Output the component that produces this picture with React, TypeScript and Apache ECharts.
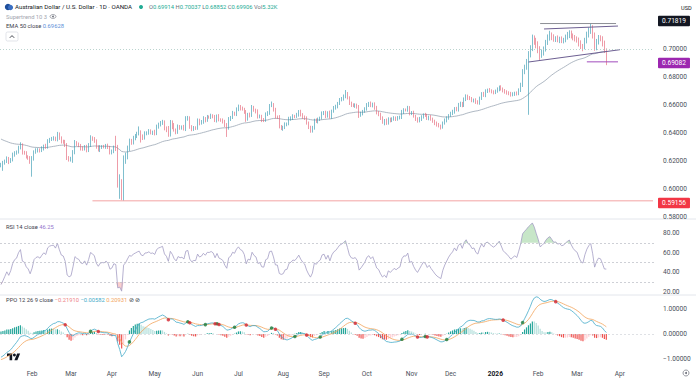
import React, { useEffect, useRef } from "react";
import * as echarts from "echarts";

// ---- warm-up closes (Sep 2024 - Jan 9 2025), used only to seed the indicators ----
const warmup = [
  6780, 6710, 6705, 6745, 6670, 6685, 6665, 6675, 6710, 6715, 6750, 6760, 6750, 6815, 6805, 6820, 6890, 6855, 6895, 6905, 6915,
  6880, 6865, 6820, 6790, 6770, 6730, 6735, 6730, 6750, 6720, 6690, 6695, 6670, 6710, 6670, 6680, 6625, 6640, 6625, 6605, 6540, 6570, 6580,
  6545, 6590, 6615, 6525, 6630, 6580, 6565, 6530, 6500, 6455, 6465, 6505, 6520, 6495, 6510, 6505, 6510, 6475, 6490, 6500, 6515,
  6480, 6445, 6410, 6420, 6395, 6390, 6365, 6350, 6330, 6345, 6335, 6310, 6240, 6240, 6250, 6240, 6225, 6220, 6215, 6210, 6200, 6190,
  6185, 6195, 6205, 6225, 6195, 6180, 6170,
];

// ---- visible daily closes (x 1e-4), upper wick and lower wick (pips) ----
const cJan25 = [6175, 6186, 6200, 6215, 6196, 6212, 6240, 6258, 6265, 6293, 6312, 6262, 6257, 6232, 6220, 6190];
const hJan25 = [12, 15, 10, 18, 14, 9, 20, 12, 10, 16, 22, 14, 11, 13, 9, 15];
const lJan25 = [15, 45, 12, 14, 18, 10, 15, 9, 13, 12, 10, 16, 12, 14, 11, 10];

const cFeb25 = [6215, 6262, 6275, 6280, 6273, 6290, 6305, 6298, 6342, 6355, 6360, 6362, 6352, 6386, 6362, 6340, 6336, 6312, 6225, 6210];
const hFeb25 = [20, 14, 16, 12, 10, 15, 12, 18, 14, 10, 12, 15, 12, 22, 18, 14, 12, 15, 16, 10];
const lFeb25 = [102, 12, 10, 14, 12, 9, 15, 11, 10, 13, 12, 14, 10, 12, 11, 15, 13, 12, 18, 14];

const cMar25 = [6215, 6260, 6330, 6318, 6312, 6290, 6285, 6302, 6276, 6310, 6364, 6357, 6345, 6300, 6278, 6298, 6302, 6300, 6310, 6298, 6262];
const hMar25 = [15, 18, 20, 12, 14, 10, 16, 12, 14, 18, 20, 12, 14, 10, 12, 15, 11, 13, 12, 14, 10];
const lMar25 = [14, 28, 12, 10, 13, 15, 12, 10, 14, 12, 10, 13, 15, 12, 10, 14, 12, 10, 13, 12, 15];

const cApr25 = [6268, 6290, 6285, 6040, 6045, 5960, 6200, 6230, 6285, 6340, 6330, 6364, 6378, 6395, 6407, 6372, 6365, 6398, 6400, 6412, 6400, 6405];
const hApr25 = [14, 20, 90, 30, 60, 25, 40, 30, 25, 20, 18, 16, 15, 14, 40, 12, 18, 14, 12, 16, 14, 12];
const lApr25 = [15, 12, 14, 30, 110, 40, 44, 20, 18, 15, 14, 12, 16, 14, 12, 40, 15, 12, 14, 12, 10, 14];

const cMay25 = [6395, 6445, 6462, 6470, 6480, 6435, 6420, 6385, 6478, 6457, 6422, 6405, 6445, 6436, 6440, 6428, 6500, 6507, 6446, 6425, 6436, 6435];
const hMay25 = [18, 15, 12, 16, 14, 10, 12, 30, 15, 12, 14, 10, 16, 12, 14, 18, 20, 15, 12, 10, 14, 12];
const lMay25 = [12, 10, 14, 15, 12, 16, 14, 12, 10, 30, 12, 14, 11, 13, 12, 10, 14, 12, 16, 12, 10, 13];

const cJun25 = [6490, 6470, 6478, 6502, 6490, 6515, 6514, 6522, 6515, 6490, 6520, 6495, 6490, 6482, 6455, 6436, 6500, 6510, 6540, 6535, 6568];
const hJun25 = [14, 12, 15, 18, 12, 14, 10, 16, 12, 14, 12, 15, 10, 14, 12, 16, 14, 12, 18, 12, 15];
const lJun25 = [12, 15, 10, 12, 14, 10, 12, 14, 10, 12, 15, 12, 10, 14, 12, 64, 12, 14, 10, 12, 14];

const cJul25 = [6588, 6575, 6570, 6552, 6500, 6530, 6525, 6582, 6564, 6555, 6515, 6520, 6492, 6490, 6535, 6542, 6595, 6600, 6568, 6515, 6514, 6445, 6436];
const hJul25 = [15, 12, 14, 10, 12, 14, 16, 18, 12, 10, 14, 12, 10, 15, 12, 14, 12, 25, 14, 12, 10, 14, 12];
const lJul25 = [12, 14, 10, 15, 20, 12, 14, 10, 12, 15, 12, 10, 14, 12, 10, 14, 12, 10, 15, 12, 14, 12, 15];

const cAug25 = [6440, 6462, 6465, 6500, 6507, 6520, 6518, 6532, 6550, 6530, 6515, 6505, 6470, 6442, 6418, 6436, 6490, 6482, 6498, 6507, 6540];
const hAug25 = [12, 14, 10, 16, 12, 14, 10, 12, 14, 16, 12, 10, 14, 12, 10, 15, 12, 14, 12, 10, 14];
const lAug25 = [20, 12, 14, 10, 12, 14, 12, 10, 15, 12, 14, 12, 10, 14, 16, 15, 12, 10, 14, 12, 10];

const cSep25 = [6545, 6520, 6545, 6515, 6555, 6579, 6590, 6612, 6636, 6645, 6660, 6679, 6650, 6614, 6598, 6595, 6600, 6586, 6528, 6540, 6555, 6572];
const hSep25 = [12, 14, 10, 15, 12, 14, 12, 10, 14, 12, 15, 28, 14, 12, 10, 14, 12, 10, 14, 12, 10, 12];
const lSep25 = [12, 14, 10, 12, 14, 10, 12, 14, 12, 10, 14, 12, 10, 14, 12, 10, 15, 12, 20, 12, 14, 10];

const cOct25 = [6600, 6610, 6595, 6607, 6580, 6545, 6535, 6505, 6480, 6488, 6470, 6500, 6490, 6498, 6508, 6500, 6507, 6512, 6550, 6565, 6564, 6580, 6540];
const hOct25 = [14, 12, 15, 10, 12, 14, 12, 10, 14, 12, 15, 12, 10, 14, 12, 10, 14, 12, 15, 12, 10, 14, 12];
const lOct25 = [12, 14, 10, 12, 14, 12, 15, 12, 14, 25, 12, 10, 14, 12, 10, 14, 12, 10, 12, 14, 10, 12, 14];

const cNov25 = [6545, 6520, 6500, 6486, 6500, 6515, 6530, 6525, 6505, 6514, 6498, 6485, 6470, 6458, 6450, 6443, 6470, 6490, 6507, 6525];
const hNov25 = [12, 14, 10, 12, 15, 12, 10, 14, 12, 10, 14, 12, 10, 12, 14, 10, 12, 14, 12, 10];
const lNov25 = [12, 10, 14, 12, 10, 14, 12, 10, 12, 14, 10, 12, 14, 12, 10, 18, 12, 10, 14, 12];

const cDec25 = [6540, 6552, 6575, 6565, 6600, 6612, 6596, 6640, 6664, 6650, 6645, 6632, 6636, 6620, 6614, 6650, 6680, 6668, 6700, 6707, 6700, 6695, 6690];
const hDec25 = [12, 14, 10, 12, 15, 12, 10, 14, 12, 10, 14, 12, 10, 12, 14, 10, 12, 14, 12, 10, 14, 12, 10];
const lDec25 = [10, 12, 14, 10, 12, 14, 12, 10, 12, 14, 10, 12, 14, 12, 10, 12, 14, 10, 12, 14, 10, 12, 14];

const cJan26 = [6698, 6712, 6729, 6715, 6700, 6693, 6688, 6680, 6672, 6679, 6685, 6680, 6705, 6743, 6836, 6870, 6907, 6960, 7007, 7079, 7060, 7030];
const hJan26 = [12, 14, 10, 12, 10, 14, 12, 10, 14, 12, 10, 12, 14, 16, 20, 18, 22, 25, 20, 24, 18, 20];
const lJan26 = [12, 10, 14, 12, 10, 12, 14, 10, 12, 10, 14, 12, 10, 12, 14, 16, 18, 377, 20, 22, 30, 25];

const cFeb26 = [7000, 6957, 6975, 7000, 7045, 7080, 7100, 7085, 7070, 7075, 7064, 7070, 7060, 7064, 7085, 7100, 7114, 7095, 7080, 7070];
const hFeb26 = [25, 20, 22, 18, 20, 24, 30, 18, 20, 16, 22, 18, 20, 16, 18, 22, 20, 18, 16, 20];
const lFeb26 = [30, 35, 20, 22, 18, 16, 20, 22, 18, 20, 16, 22, 18, 20, 16, 18, 22, 20, 18, 16];

const cMar26 = [7064, 7040, 7020, 7014, 7060, 7100, 7130, 7150, 7100, 7007, 7050, 7080, 7075, 7040, 6991.4, 6990.6];
const hMar26 = [20, 18, 22, 16, 20, 24, 25, 32, 20, 18, 22, 20, 18, 16, 20, 13];
const lMar26 = [18, 22, 20, 30, 16, 20, 18, 22, 25, 20, 16, 18, 20, 22, 20, 106];

// ---- price-scale ticks and drawn levels ----
const priceTicks = [0.58, 0.6, 0.62, 0.64, 0.66, 0.68, 0.7];
const rsiTicks = [20, 40, 60, 80];
const ppoTicks = [-1, 0, 1];
const levelHigh = 0.71819;
const levelLow = 0.69082;
const levelApril = 0.59156;
const lastClose = 0.69906;
// drawn trend lines: [startBar, startPrice, endBar, endPrice]
const upperTrend = [279, 0.7143, 317, 0.7164];
const lowerTrend = [271, 0.6907, 318, 0.6995];

const monthAbbr = ["Jan", "Feb", "Mar", "Apr", "May", "Jun", "Jul", "Aug", "Sep", "Oct", "Nov", "Dec"];

function buildDates(y: number, m: number, d: number, count: number): string[] {
  const out: string[] = [];
  const dt = new Date(Date.UTC(y, m - 1, d));
  while (out.length < count) {
    const wd = dt.getUTCDay();
    if (wd !== 0 && wd !== 6) out.push(dt.toISOString().slice(0, 10));
    dt.setUTCDate(dt.getUTCDate() + 1);
  }
  return out;
}

function ema(src: number[], n: number): number[] {
  const a = 2 / (n + 1);
  const out: number[] = [];
  let prev = src[0];
  src.forEach((v, i) => {
    prev = i === 0 ? v : a * v + (1 - a) * prev;
    out.push(prev);
  });
  return out;
}

function rsiCalc(src: number[], n: number): number[] {
  const out: number[] = new Array(src.length).fill(NaN);
  let ag = 0;
  let al = 0;
  for (let i = 1; i < src.length; i++) {
    const ch = src[i] - src[i - 1];
    const g = Math.max(ch, 0);
    const l = Math.max(-ch, 0);
    if (i <= n) {
      ag += g / n;
      al += l / n;
      if (i === n) out[i] = al === 0 ? 100 : 100 - 100 / (1 + ag / al);
    } else {
      ag = (ag * (n - 1) + g) / n;
      al = (al * (n - 1) + l) / n;
      out[i] = al === 0 ? 100 : 100 - 100 / (1 + ag / al);
    }
  }
  return out;
}

const FONT = "Roboto, 'Liberation Sans', Arial, sans-serif";

export default function App() {
  const ref = useRef<HTMLDivElement>(null);

  useEffect(() => {
    if (!ref.current) return;
    const chart = echarts.init(ref.current, undefined, { renderer: "svg" });

    const closesP = [
      ...cJan25, ...cFeb25, ...cMar25, ...cApr25, ...cMay25, ...cJun25, ...cJul25, ...cAug25,
      ...cSep25, ...cOct25, ...cNov25, ...cDec25, ...cJan26, ...cFeb26, ...cMar26,
    ];
    const hiW = [
      ...hJan25, ...hFeb25, ...hMar25, ...hApr25, ...hMay25, ...hJun25, ...hJul25, ...hAug25,
      ...hSep25, ...hOct25, ...hNov25, ...hDec25, ...hJan26, ...hFeb26, ...hMar26,
    ];
    const loW = [
      ...lJan25, ...lFeb25, ...lMar25, ...lApr25, ...lMay25, ...lJun25, ...lJul25, ...lAug25,
      ...lSep25, ...lOct25, ...lNov25, ...lDec25, ...lJan26, ...lFeb26, ...lMar26,
    ];
    const N = closesP.length;
    const cats = buildDates(2025, 1, 10, 336);

    const candle = closesP.map((c, i) => {
      const o = i === 0 ? warmup[warmup.length - 1] : closesP[i - 1];
      const hi = Math.max(o, c) + hiW[i];
      const lo = Math.min(o, c) - loW[i];
      return [o / 1e4, c / 1e4, lo / 1e4, hi / 1e4];
    });

    const all = [...warmup, ...closesP].map((v) => v / 1e4);
    const WL = warmup.length;
    const ema50 = ema(all, 50).slice(WL);
    const rsi = rsiCalc(all, 14).slice(WL);
    const e12 = ema(all, 12);
    const e26 = ema(all, 26);
    const ppoAll = e12.map((v, i) => ((v - e26[i]) / e26[i]) * 100);
    const sigAll = ema(ppoAll, 9);
    const ppo = ppoAll.slice(WL);
    const sig = sigAll.slice(WL);
    const histAll = ppoAll.map((v, i) => v - sigAll[i]);
    const hist = histAll.slice(WL);

    const histData = hist.map((h, i) => {
      const prev = histAll[WL + i - 1];
      let color: string;
      if (h >= 0) color = prev < h ? "#26a69a" : "#b2dfdb";
      else color = prev < h ? "#ffcdd2" : "#ef5350";
      return { value: h, itemStyle: { color } };
    });

    const upDots: number[][] = [];
    const dnDots: number[][] = [];
    for (let i = 0; i < N; i++) {
      const d0 = ppoAll[WL + i - 1] - sigAll[WL + i - 1];
      const d1 = ppo[i] - sig[i];
      if (d0 <= 0 && d1 > 0) upDots.push([i, ppo[i]]);
      if (d0 >= 0 && d1 < 0) dnDots.push([i, ppo[i]]);
    }

    const obBase = rsi.map((v) => (v > 70 ? 70 : v));
    const obTop = rsi.map((v) => (v > 70 ? v - 70 : 0));
    const osBase = rsi.map((v) => (v < 30 ? v : 30));
    const osTop = rsi.map((v) => (v < 30 ? 30 - v : 0));

    const labelFmt = (v: string) => {
      const m = parseInt(v.slice(5, 7), 10) - 1;
      if (m === 0) return "{b|" + v.slice(0, 4) + "}";
      return monthAbbr[m];
    };
    const monthStart = (i: number) => i > 0 && cats[i].slice(0, 7) !== cats[i - 1].slice(0, 7);

    const axisLbl = { fontSize: 6.6, color: "#4a4f5a", fontFamily: FONT, margin: 9 };

    const grids = [
      { left: 0, right: 42, top: 14, height: 204 },
      { left: 0, right: 42, top: 220, height: 73 },
      { left: 0, right: 42, top: 296, height: 70 },
    ];

    const xAxes = grids.map((_, gi) => ({
      type: "category",
      gridIndex: gi,
      data: cats,
      boundaryGap: true,
      axisLine: { show: false },
      axisTick: { show: false },
      splitLine: { show: false },
      axisLabel:
        gi === 2
          ? {
              show: true,
              interval: (i: number) => monthStart(i),
              formatter: labelFmt,
              fontSize: 6.6,
              color: "#4a4f5a",
              fontFamily: FONT,
              margin: 4,
              rich: { b: { fontSize: 6.6, fontWeight: "bold", color: "#131722", fontFamily: FONT } },
            }
          : { show: false },
    }));

    const levelLabel = (v: number, bg: string) => ({
      yAxis: v,
      label: {
        show: true,
        position: "end",
        distance: 4,
        formatter: v.toFixed(5),
        backgroundColor: bg,
        color: "#ffffff",
        padding: [2, 4, 1.5, 4],
        fontSize: 6.6,
        fontFamily: FONT,
        borderRadius: 1,
      },
    });

    const segSeries = (i0: number, v0: number, i1: number, v1: number, color: string) => ({
      type: "line",
      xAxisIndex: 0,
      yAxisIndex: 0,
      data: [
        [cats[i0], v0],
        [cats[i1], v1],
      ],
      symbol: "none",
      silent: true,
      lineStyle: { color, width: 1 },
      z: 4,
    });

    const option: any = {
      animation: false,
      backgroundColor: "#ffffff",
      grid: grids,
      xAxis: xAxes,
      yAxis: [
        {
          type: "value",
          gridIndex: 0,
          position: "right",
          min: 0.5793,
          max: 0.725,
          splitLine: { show: false },
          axisLine: { show: false },
          axisTick: { show: false },
          axisLabel: { ...axisLbl, customValues: priceTicks, formatter: (v: number) => v.toFixed(5) },
        },
        {
          type: "value",
          gridIndex: 1,
          position: "right",
          min: 18.8,
          max: 93.2,
          splitLine: { show: false },
          axisLine: { show: false },
          axisTick: { show: false },
          axisLabel: { ...axisLbl, customValues: rsiTicks, formatter: (v: number) => v.toFixed(2) },
        },
        {
          type: "value",
          gridIndex: 2,
          position: "right",
          min: -1.28,
          max: 1.52,
          splitLine: { show: false },
          axisLine: { show: false },
          axisTick: { show: false },
          axisLabel: { ...axisLbl, customValues: ppoTicks, formatter: (v: number) => (v < 0 ? "\u2212" : "") + Math.abs(v).toFixed(5) },
        },
      ],
      series: [
        {
          type: "line",
          xAxisIndex: 0,
          yAxisIndex: 0,
          data: ema50,
          symbol: "none",
          lineStyle: { color: "#9aa6b4", width: 0.8 },
          z: 1,
        },
        {
          type: "candlestick",
          xAxisIndex: 0,
          yAxisIndex: 0,
          data: candle,
          barWidth: 1.3,
          itemStyle: {
            color: "#2a93ad",
            color0: "#e2596d",
            borderColor: "#2a93ad",
            borderColor0: "#e2596d",
            borderWidth: 0.6,
          },
          z: 2,
        },
        {
          type: "line",
          xAxisIndex: 0,
          yAxisIndex: 0,
          data: [],
          clip: false,
          silent: true,
          markLine: {
            symbol: "none",
            silent: true,
            animation: false,
            lineStyle: { color: "#a9c9c3", width: 0.8, type: [1, 2] },
            label: { show: false },
            data: [{ yAxis: lastClose }],
          },
        },
        {
          type: "line",
          xAxisIndex: 0,
          yAxisIndex: 0,
          data: [],
          clip: false,
          silent: true,
          z: 6,
          markLine: {
            symbol: "none",
            silent: true,
            animation: false,
            lineStyle: { color: "rgba(0,0,0,0)", width: 0 },
            data: [
              levelLabel(levelHigh, "#131722"),
              levelLabel(levelLow, "#9c27b0"),
              levelLabel(levelApril, "#f23645"),
            ],
          },
        },
        segSeries(47, levelApril, 335, levelApril, "#f3a3a3"),
        segSeries(277, levelHigh, 316, levelHigh, "#8d8f95"),
        segSeries(301, levelLow, 317, levelLow, "#a04cbc"),
        segSeries(upperTrend[0], upperTrend[1], upperTrend[2], upperTrend[3], "#6d5f92"),
        segSeries(lowerTrend[0], lowerTrend[1], lowerTrend[2], lowerTrend[3], "#6d5f92"),
        {
          type: "line",
          xAxisIndex: 1,
          yAxisIndex: 1,
          data: obBase,
          stack: "ob",
          symbol: "none",
          lineStyle: { opacity: 0 },
          silent: true,
        },
        {
          type: "line",
          xAxisIndex: 1,
          yAxisIndex: 1,
          data: obTop,
          stack: "ob",
          symbol: "none",
          lineStyle: { opacity: 0 },
          areaStyle: { color: "rgba(76,175,80,0.45)" },
          silent: true,
        },
        {
          type: "line",
          xAxisIndex: 1,
          yAxisIndex: 1,
          data: osBase,
          stack: "os",
          symbol: "none",
          lineStyle: { opacity: 0 },
          silent: true,
        },
        {
          type: "line",
          xAxisIndex: 1,
          yAxisIndex: 1,
          data: osTop,
          stack: "os",
          symbol: "none",
          lineStyle: { opacity: 0 },
          areaStyle: { color: "rgba(239,83,80,0.4)" },
          silent: true,
        },
        {
          type: "line",
          xAxisIndex: 1,
          yAxisIndex: 1,
          data: rsi,
          symbol: "none",
          lineStyle: { color: "#a39dc4", width: 0.8 },
          markLine: {
            symbol: "none",
            silent: true,
            label: { show: false },
            lineStyle: { color: "#b9bcc4", width: 0.7, type: [2, 2] },
            data: [{ yAxis: 70 }, { yAxis: 50 }, { yAxis: 30 }],
          },
        },
        {
          type: "bar",
          xAxisIndex: 2,
          yAxisIndex: 2,
          data: histData,
          barWidth: 1.2,
          markLine: {
            symbol: "none",
            silent: true,
            label: { show: false },
            lineStyle: { color: "#c9ccd3", width: 0.6, type: [2, 2] },
            data: [{ yAxis: 0 }],
          },
        },
        {
          type: "line",
          xAxisIndex: 2,
          yAxisIndex: 2,
          data: sig,
          symbol: "none",
          lineStyle: { color: "#f3a55c", width: 0.8 },
        },
        {
          type: "line",
          xAxisIndex: 2,
          yAxisIndex: 2,
          data: ppo,
          symbol: "none",
          lineStyle: { color: "#45abc9", width: 0.8 },
        },
        {
          type: "scatter",
          xAxisIndex: 2,
          yAxisIndex: 2,
          data: upDots,
          symbolSize: 3.5,
          itemStyle: { color: "#1f7a37" },
          z: 5,
        },
        {
          type: "scatter",
          xAxisIndex: 2,
          yAxisIndex: 2,
          data: dnDots,
          symbolSize: 3.5,
          itemStyle: { color: "#d8262f" },
          z: 5,
        },
      ],
      graphic: [
        { type: "line", shape: { x1: 0, y1: 219, x2: 696, y2: 219 }, style: { stroke: "#e3e6ec", lineWidth: 1 } },
        { type: "line", shape: { x1: 0, y1: 295, x2: 696, y2: 295 }, style: { stroke: "#e3e6ec", lineWidth: 1 } },
        { type: "circle", shape: { cx: 8, cy: 7, r: 3.2 }, style: { fill: "#1e4f9c" } },
        { type: "circle", shape: { cx: 10.5, cy: 7.5, r: 2.6 }, style: { fill: "#3b6fc2" } },
        {
          type: "text",
          x: 15,
          y: 7,
          style: { text: "Australian Dollar / U.S. Dollar · 1D · OANDA", fill: "#131722", font: `6.2px ${FONT}`, verticalAlign: "middle" },
        },
        { type: "circle", shape: { cx: 141, cy: 7, r: 2 }, style: { fill: "#22ab94" } },
        {
          type: "text",
          x: 149,
          y: 7,
          style: {
            text: "{l|O}{v|0.69914} {l|H}{v|0.70037} {l|L}{v|0.68852} {l|C}{v|0.69906} {l|Vol}{v|5.32K}",
            font: `5.8px ${FONT}`,
            verticalAlign: "middle",
            rich: {
              l: { fill: "#6a6d78", fontSize: 5.8, fontFamily: FONT },
              v: { fill: "#22ab94", fontSize: 5.8, fontFamily: FONT },
            },
          },
        },
        {
          type: "text",
          x: 6,
          y: 16.5,
          style: { text: "Supertrend 10 3", fill: "#a3a6af", font: `5.8px ${FONT}`, verticalAlign: "middle" },
        },
        { type: "ellipse", shape: { cx: 53, cy: 16.5, rx: 3, ry: 1.9 }, style: { fill: "none", stroke: "#6a6d78", lineWidth: 0.6 } },
        { type: "circle", shape: { cx: 53, cy: 16.5, r: 0.9 }, style: { fill: "#6a6d78" } },
        {
          type: "text",
          x: 6,
          y: 26,
          style: {
            text: "{l|EMA 50 close} {v|0.69628}",
            font: `5.8px ${FONT}`,
            verticalAlign: "middle",
            rich: {
              l: { fill: "#3c404a", fontSize: 5.8, fontFamily: FONT },
              v: { fill: "#5b8fd8", fontSize: 5.8, fontFamily: FONT },
            },
          },
        },
        { type: "rect", shape: { x: 6, y: 32, width: 12, height: 9, r: 1.5 }, style: { fill: "#fff", stroke: "#d6d9df", lineWidth: 0.7 } },
        { type: "polyline", shape: { points: [[9.8, 37.8], [12, 35.6], [14.2, 37.8]] }, style: { fill: "none", stroke: "#131722", lineWidth: 0.8 } },
        {
          type: "text",
          x: 681,
          y: 8,
          style: { text: "USD", fill: "#131722", font: `5.6px ${FONT}`, verticalAlign: "middle" },
        },
        {
          type: "text",
          x: 6,
          y: 227,
          style: {
            text: "{l|RSI 14 close} {v|46.25}",
            font: `5.8px ${FONT}`,
            verticalAlign: "middle",
            rich: {
              l: { fill: "#3c404a", fontSize: 5.8, fontFamily: FONT },
              v: { fill: "#9575cd", fontSize: 5.8, fontFamily: FONT },
            },
          },
        },
        {
          type: "text",
          x: 6,
          y: 300,
          style: {
            text: "{l|PPO 12 26 9 close} {r|\u22120.21910} {b|\u22120.00582} {o|0.20931} {l|⊘ ⊘}",
            font: `5.8px ${FONT}`,
            verticalAlign: "middle",
            rich: {
              l: { fill: "#3c404a", fontSize: 5.8, fontFamily: FONT },
              r: { fill: "#ee7f86", fontSize: 5.8, fontFamily: FONT },
              b: { fill: "#45abc9", fontSize: 5.8, fontFamily: FONT },
              o: { fill: "#f3a55c", fontSize: 5.8, fontFamily: FONT },
            },
          },
        },
        { type: "circle", shape: { cx: 686, cy: 373, r: 3 }, style: { fill: "none", stroke: "#6a6d78", lineWidth: 0.7 } },
        { type: "circle", shape: { cx: 686, cy: 373, r: 1 }, style: { fill: "#6a6d78" } },
        { type: "tvlogo", x: 7, y: 352, scaleX: 0.37, scaleY: 0.37, style: { fill: "#131722" } },
        { type: "circle", shape: { cx: 7 + 20 * 0.37, cy: 352 + 8 * 0.37, r: 4 * 0.37 }, style: { fill: "#131722" } },
      ],
    };

    chart.setOption(option);
    return () => chart.dispose();
  }, []);

  return <div ref={ref} style={{ width: 696, height: 382, position: "absolute", left: 0, top: 0 }} />;
}

echarts.graphic.registerShape(
  "tvlogo",
  echarts.graphic.extendPath("M14 22H7V11H0V4h14v18zM28 22h-8l7.5-18h8L28 22z", {})
);
